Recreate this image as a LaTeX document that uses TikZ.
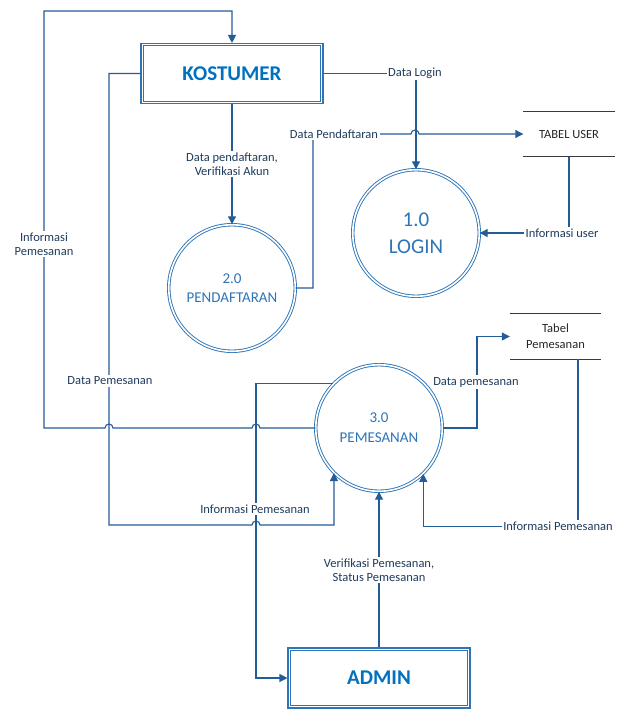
\documentclass[tikz,border=0pt]{standalone}
\usepackage{fontspec}
\setmainfont{Carlito}
\usetikzlibrary{arrows.meta,calc}
\definecolor{lineblue}{HTML}{245C98}
\definecolor{shapeblue}{HTML}{2E75B6}
\definecolor{titleblue}{HTML}{0070C0}
\definecolor{labelcol}{HTML}{1F3B5C}
\definecolor{storeline}{HTML}{3A3A3A}
\begin{document}
\begin{tikzpicture}[x=1pt,y=-1pt,
  every node/.style={inner sep=0pt},
  entity/.style={draw=shapeblue, line width=1.1pt,
    minimum width=182pt, minimum height=60pt,
    font=\fontsize{21}{24}\selectfont\bfseries, text=titleblue},
  entityinner/.style={draw=shapeblue, line width=1.1pt},
  process/.style={circle, draw=shapeblue, double=white, double distance=1.6pt, line width=0.9pt,
    minimum size=126.5pt, align=center, text=shapeblue},
  store/.style={minimum width=91pt, minimum height=45pt, align=center,
    font=\fontsize{12.5}{16}\selectfont, text=black!85},
  storeedge/.style={draw=storeline, line width=1.2pt},
  flow/.style={draw=lineblue, line width=1.1pt},
  arr/.style={flow, -{Triangle[length=8pt,width=8pt]}},
  lbl/.style={fill=white, inner sep=1.5pt, font=\fontsize{12.5}{14.5}\selectfont,
    text=labelcol, align=center}]

\fill[white] (0,0) rectangle (624,709);
\useasboundingbox (0,0) rectangle (624,709);

% nodes
\node[entity] (kostumer) at (232,73.5) {KOSTUMER};
\node[entity] (admin) at (379,678) {ADMIN};
\draw[entityinner] ([shift={(3pt,-3pt)}]kostumer.north west) rectangle ([shift={(-3pt,3pt)}]kostumer.south east);
\draw[entityinner] ([shift={(3pt,-3pt)}]admin.north west) rectangle ([shift={(-3pt,3pt)}]admin.south east);
\node[process, font=\fontsize{21}{27}\selectfont] (login) at (416,233) {1.0\\LOGIN};
\node[process, font=\fontsize{15}{19}\selectfont] (pendaftaran) at (232,288) {2.0\\PENDAFTARAN};
\node[process, font=\fontsize{15}{20}\selectfont] (pemesanan) at (379,428) {3.0\\PEMESANAN};
\node[store] (tabeluser) at (569,134) {TABEL USER};
\node[store, font=\fontsize{12.5}{16}\selectfont] (tabelpem) at (555.5,336.5) {Tabel\\Pemesanan};

\draw[storeedge] (tabeluser.north west) -- (tabeluser.north east);
\draw[storeedge] (tabeluser.south west) -- (tabeluser.south east);
\draw[storeedge] (tabelpem.north west) -- (tabelpem.north east);
\draw[storeedge] (tabelpem.south west) -- (tabelpem.south east);

% connectors
\draw[arr] (pemesanan.west) -- (260,428) arc[start angle=0,end angle=180,radius=4pt]
  -- (113,428) arc[start angle=0,end angle=180,radius=4pt]
  -- (44,428) -- (44,11) -| (kostumer.north);
\draw[arr] (kostumer.west) -| (109,525) -- (252,525)
  arc[start angle=180,end angle=0,radius=4pt] -| (pemesanan.-135);
\draw[arr] (pemesanan.136) -| (256,678) -- (admin.west);
\draw[arr] (admin.north) -- (pemesanan.south);
\draw[arr] (pemesanan.east) -- (477,428) |- (tabelpem.west);
\draw[arr] ([xshift=22.5pt]tabelpem.south) -- ++(0,167) -| (pemesanan.-46);
\draw[arr] (kostumer.east) -| (login.north);
\draw[arr] (pendaftaran.east) -| (313,134) -- (411,134)
  arc[start angle=180,end angle=0,radius=4pt] -- (tabeluser.west);
\draw[arr] (tabeluser.south) |- (login.east);
\draw[arr] (kostumer.south) -- (pendaftaran.north);

% labels
\node[lbl] (l1) at (415,73) {Data Login};
\node[lbl] (l2) at (334,134) {Data Pendaftaran};
\node[lbl] (l3) at (562,233) {Informasi user};
\node[lbl] (l4) at (232,164) {Data pendaftaran,\\Verifikasi Akun};
\node[lbl] (l5) at (44,244) {Informasi\\Pemesanan};
\node[lbl] (l6) at (110,381) {Data Pemesanan};
\node[lbl] (l7) at (476,382) {Data pemesanan};
\node[lbl] (l8) at (255,509) {Informasi Pemesanan};
\node[lbl] (l9) at (558,526) {Informasi Pemesanan};
\node[lbl] (l10) at (379,570) {Verifikasi Pemesanan,\\Status Pemesanan};
\end{tikzpicture}
\end{document}
